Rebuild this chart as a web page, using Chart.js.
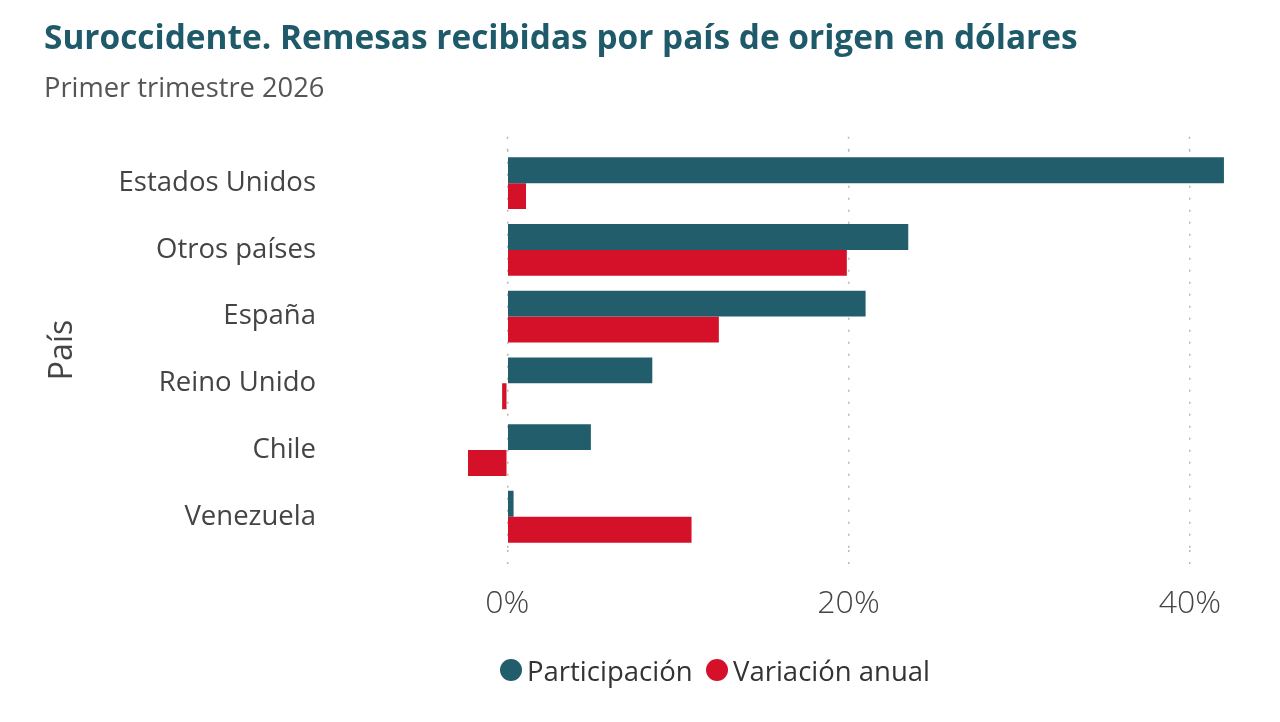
<!DOCTYPE html>
<html>
<head>
<meta charset="utf-8">
<script src="https://cdn.jsdelivr.net/npm/chart.js@4.4.1/dist/chart.umd.min.js"></script>
<style>
  html, body { margin: 0; padding: 0; background: #ffffff; }
  #wrap { position: relative; width: 1280px; height: 722px; }
  #legend { position: absolute; left: 0; top: 650px; width: 1280px; height: 40px;
    font-family: "Open Sans", sans-serif; font-size: 27.5px; color: #333; }
  .item { position: absolute; top: 0; display: flex; align-items: center; height: 40px; }
  .dot { width: 22px; height: 22px; border-radius: 50%; margin-right: 5px; }
</style>
</head>
<body>
<div id="wrap">
  <canvas id="c" width="1280" height="722"></canvas>
  <div id="legend"></div>
</div>
<script>
const TITLE = "Suroccidente. Remesas recibidas por país de origen en dólares";
const SUBTITLE = "Primer trimestre 2026";
const CATEGORIES = ["Estados Unidos", "Otros países", "España", "Reino Unido", "Chile", "Venezuela"];
const SERIES_NAMES = ["Participación", "Variación anual"];
const PARTICIPACION = [42.0, 23.5, 21.0, 8.5, 4.9, 0.37];
const VARIACION = [1.1, 19.9, 12.4, -0.3, -2.3, 10.8];
const X_TICKS = [0, 20, 40];
const COLORS = ["#225d6c", "#d51129"];

// HTML legend
const legend = document.getElementById('legend');
const legendX = [500, 706];
SERIES_NAMES.forEach((n, i) => {
  const d = document.createElement('div');
  d.className = 'item';
  d.style.left = legendX[i] + 'px';
  d.innerHTML = '<span class="dot" style="background:' + COLORS[i] + '"></span><span>' + n + '</span>';
  legend.appendChild(d);
});

const GRID_COLOR = '#b8b8b8';
const DASH = [2, 10];

new Chart(document.getElementById('c'), {
  type: 'bar',
  data: {
    labels: CATEGORIES,
    datasets: [
      { label: SERIES_NAMES[0], data: PARTICIPACION, backgroundColor: COLORS[0],
        categoryPercentage: 0.776, barPercentage: 1.0 },
      { label: SERIES_NAMES[1], data: VARIACION, backgroundColor: COLORS[1],
        categoryPercentage: 0.776, barPercentage: 1.0 }
    ]
  },
  options: {
    indexAxis: 'y',
    responsive: false,
    animation: false,
    layout: { padding: { left: 44, right: 39, top: 0, bottom: 87.5 } },
    plugins: {
      legend: { display: false },
      tooltip: { enabled: false },
      title: {
        display: true, text: TITLE, align: 'start',
        color: '#1f5a6a',
        font: { family: 'Open Sans', size: 33.4, weight: 'bold' },
        padding: { top: 19, bottom: 14 }
      },
      subtitle: {
        display: true, text: SUBTITLE, align: 'start',
        color: '#555555',
        font: { family: 'Open Sans', size: 27.3 },
        padding: { top: 0, bottom: 31 }
      }
    },
    scales: {
      x: {
        type: 'linear', min: -4, max: 43,
        border: { display: false, dash: DASH },
        grid: {
          color: GRID_COLOR, lineWidth: 1.5,
          drawTicks: true, tickLength: 24, tickColor: GRID_COLOR, tickBorderDash: DASH
        },
        afterBuildTicks: (s) => { s.ticks = X_TICKS.map(v => ({ value: v })); },
        ticks: {
          padding: 11,
          color: '#444444',
          font: { family: 'Open Sans', size: 32, weight: '300' },
          callback: (v) => v + '%'
        }
      },
      x2: {
        type: 'linear', position: 'top', min: -4, max: 43,
        border: { display: false },
        grid: {
          drawOnChartArea: false, drawTicks: true, tickLength: 13,
          tickColor: GRID_COLOR, tickWidth: 1.5, tickBorderDash: DASH
        },
        afterBuildTicks: (s) => { s.ticks = X_TICKS.map(v => ({ value: v })); },
        ticks: { display: false }
      },
      y: {
        border: { display: false },
        grid: { display: false, drawTicks: false },
        afterFit: (s) => { s.width = 395; },
        title: {
          display: true, text: 'País', color: '#444444',
          font: { family: 'Open Sans', size: 32 }, padding: 0
        },
        ticks: {
          padding: 123,
          color: '#444444',
          font: { family: 'Open Sans', size: 27.5 }
        }
      }
    }
  }
});
</script>
</body>
</html>
